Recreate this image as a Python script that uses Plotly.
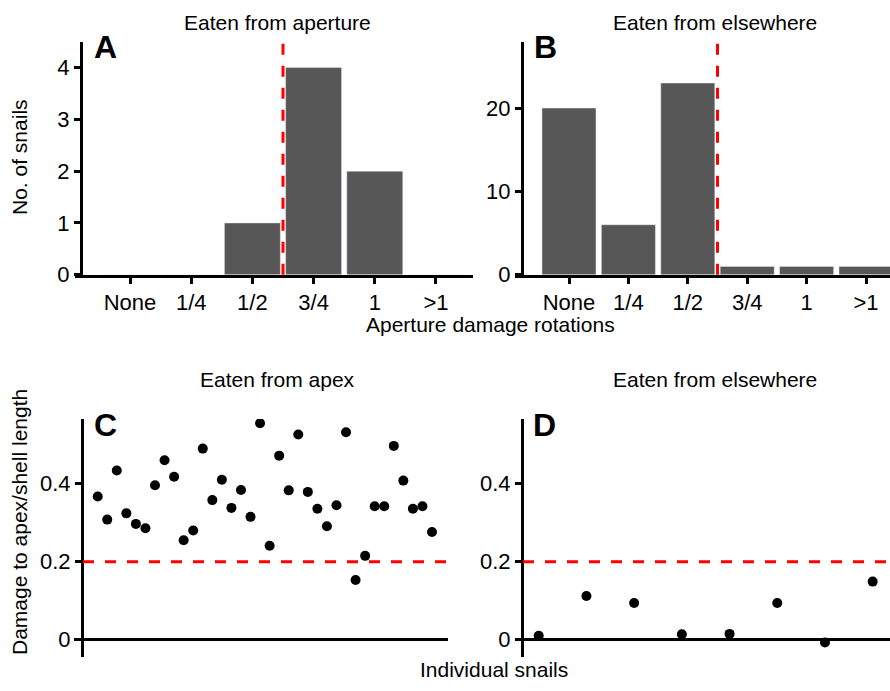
import plotly.graph_objects as go

W, H = 890, 691

categories = ["None", "1/4", "1/2", "3/4", "1", ">1"]
counts_aperture = [0, 0, 1, 4, 2, 0]
counts_elsewhere = [20, 6, 23, 1, 1, 1]

apex_ratio = [0.367, 0.308, 0.434, 0.324, 0.297, 0.286, 0.396, 0.460, 0.418, 0.255,
              0.280, 0.490, 0.358, 0.410, 0.338, 0.384, 0.315, 0.555, 0.241, 0.472,
              0.383, 0.526, 0.379, 0.336, 0.291, 0.345, 0.532, 0.153, 0.215, 0.342,
              0.342, 0.497, 0.408, 0.336, 0.342, 0.276]
else_ratio = [0.010, 0.112, 0.094, 0.014, 0.015, 0.094, -0.007, 0.149]

threshold_rot = 2.5   # between 1/2 and 3/4
threshold_ratio = 0.2

FONT = "Liberation Sans, Arial, sans-serif"
BAR = "#575757"
RED = "#ff0000"

def px(x):
    return x / W

def py(y):
    return 1 - y / H

fig = go.Figure()
xpos = list(range(len(categories)))

fig.add_trace(go.Bar(x=xpos, y=counts_aperture, marker_color=BAR, width=0.915,
                     xaxis="x", yaxis="y", showlegend=False))
fig.add_trace(go.Bar(x=xpos, y=counts_elsewhere, marker_color=BAR, width=0.91,
                     xaxis="x2", yaxis="y2", showlegend=False))
fig.add_trace(go.Scatter(x=list(range(1, len(apex_ratio) + 1)), y=apex_ratio, mode="markers",
                         marker=dict(color="black", size=10), xaxis="x3", yaxis="y3", showlegend=False))
fig.add_trace(go.Scatter(x=list(range(1, len(else_ratio) + 1)), y=else_ratio, mode="markers",
                         marker=dict(color="black", size=10), xaxis="x4", yaxis="y4", showlegend=False))

tickfont = dict(family=FONT, size=22, color="black")
common_x = dict(showgrid=False, zeroline=False, showline=True, linecolor="black", linewidth=3,
                ticks="outside", ticklen=6, tickwidth=3, tickcolor="black", tickfont=tickfont,
                fixedrange=True)
common_y = dict(showgrid=False, showline=True, linecolor="black", linewidth=3,
                ticks="outside", ticklen=6, tickwidth=3, tickcolor="black", tickfont=tickfont,
                anchor="free", fixedrange=True)

fig.update_layout(
    width=W, height=H, margin=dict(l=0, r=0, t=0, b=0),
    paper_bgcolor="white", plot_bgcolor="rgba(0,0,0,0)",
    font=dict(family=FONT, size=21, color="black"),
    xaxis=dict(common_x, domain=[px(75), px(473)], range=[-0.899, 5.605], anchor="y",
               tickmode="array", tickvals=xpos, ticktext=categories),
    yaxis=dict(common_y, domain=[py(280), py(43)], range=[0, 4.49], position=px(81),
               zeroline=False, tickmode="array", tickvals=[0, 1, 2, 3, 4]),
    xaxis2=dict(common_x, domain=[px(515), 1.0], range=[-0.909, 5.404], anchor="y2",
                tickmode="array", tickvals=xpos, ticktext=categories),
    yaxis2=dict(common_y, domain=[py(280), py(43)], range=[0, 27.9], position=px(522),
                zeroline=False, tickmode="array", tickvals=[0, 10, 20]),
    xaxis3=dict(domain=[px(74), px(448)], range=[-1.481, 37.675], anchor="y3",
                visible=False, fixedrange=True),
    yaxis3=dict(common_y, domain=[py(670), py(427)], range=[-0.0453, 0.566], position=px(82),
                zeroline=True, zerolinecolor="black", zerolinewidth=3,
                tickmode="array", tickvals=[0, 0.2, 0.4], ticktext=["0", "0.2", "0.4"]),
    xaxis4=dict(domain=[px(515), 1.0], range=[0.503, 8.363], anchor="y4",
                visible=False, fixedrange=True),
    yaxis4=dict(common_y, domain=[py(670), py(427)], range=[-0.0453, 0.566], position=px(522),
                zeroline=True, zerolinecolor="black", zerolinewidth=3,
                tickmode="array", tickvals=[0, 0.2, 0.4], ticktext=["0", "0.2", "0.4"]),
)

dash = "11px,11px"
fig.add_shape(type="line", xref="x", yref="y domain", x0=threshold_rot, x1=threshold_rot, y0=0, y1=1,
              line=dict(color=RED, width=3, dash=dash))
fig.add_shape(type="line", xref="x2", yref="y2 domain", x0=threshold_rot, x1=threshold_rot, y0=0, y1=1,
              line=dict(color=RED, width=3, dash=dash))
fig.add_shape(type="line", xref="paper", yref="y3", x0=px(83), x1=px(448),
              y0=threshold_ratio, y1=threshold_ratio, line=dict(color=RED, width=3, dash=dash))
fig.add_shape(type="line", xref="paper", yref="y4", x0=px(523), x1=1.0,
              y0=threshold_ratio, y1=threshold_ratio, line=dict(color=RED, width=3, dash=dash))

def ann(text, x, y, size=21, bold=False, angle=0):
    fig.add_annotation(text=f"<b>{text}</b>" if bold else text, x=px(x), y=py(y),
                       xref="paper", yref="paper", showarrow=False, textangle=angle,
                       xanchor="center", yanchor="middle",
                       font=dict(family=FONT, size=size, color="black"))

ann("Eaten from aperture", 277, 23)
ann("Eaten from elsewhere", 715, 23)
ann("Eaten from apex", 277, 387)
ann("Eaten from elsewhere", 715, 387)
ann("A", 105, 48, size=32, bold=True)
ann("B", 545, 48, size=32, bold=True)
ann("C", 105, 433, size=32, bold=True)
ann("D", 544, 433, size=32, bold=True)
ann("No. of snails", 20, 160, angle=-90)
ann("Damage to apex/shell length", 20, 532, angle=-90)
ann("Aperture damage rotations", 491, 331)
ann("Individual snails", 494, 682)

fig.write_html("out.html")
